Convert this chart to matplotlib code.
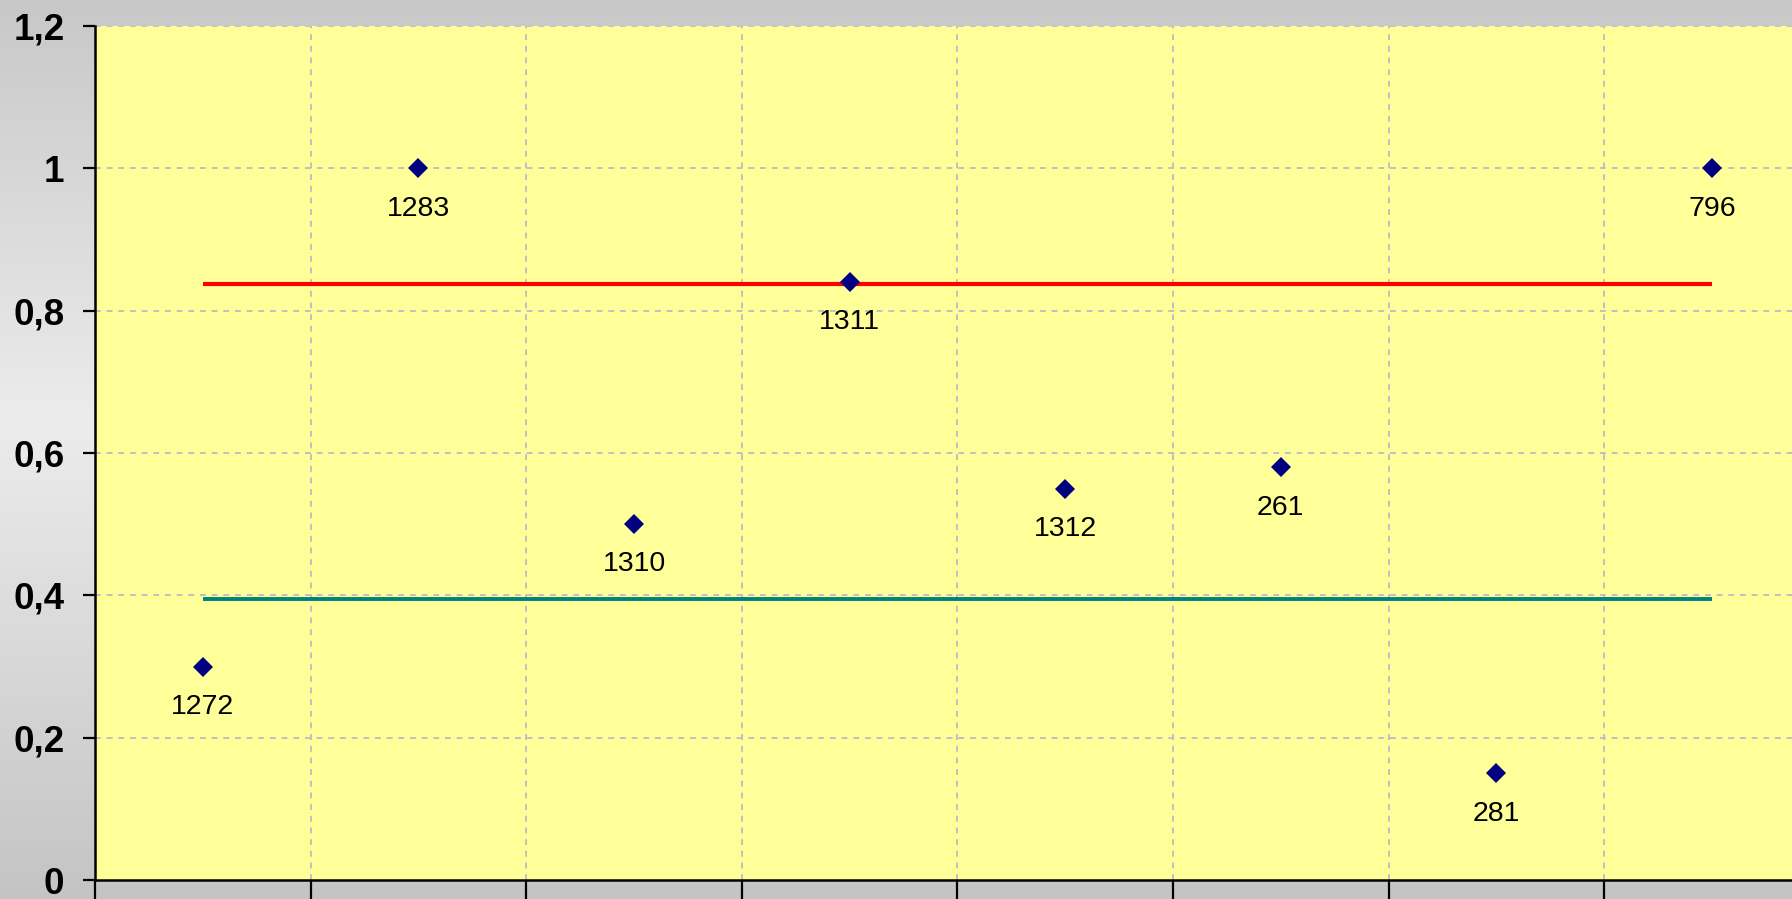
import numpy as np
import matplotlib
matplotlib.use("Agg")
import matplotlib.pyplot as plt
from matplotlib.colors import LinearSegmentedColormap

# ---- data ----
labels = ['1272', '1283', '1310', '1311', '1312', '261', '281', '796']
values = [0.30, 1.00, 0.50, 0.84, 0.55, 0.58, 0.15, 1.00]
red_level = 0.837
teal_level = 0.395
y_ticks = [0, 0.2, 0.4, 0.6, 0.8, 1.0, 1.2]
y_ticklabels = ['0', '0,2', '0,4', '0,6', '0,8', '1', '1,2']

plt.rcParams['font.family'] = ['Liberation Sans', 'DejaVu Sans']

W, H = 1792, 899
fig = plt.figure(figsize=(W / 100, H / 100), dpi=100)

# background vertical gradient
bg = fig.add_axes([0, 0, 1, 1], zorder=-10)
cmap = LinearSegmentedColormap.from_list(
    'g', [(0.0, '#c8c8c8'), (0.47, '#ececec'), (1.0, '#c4c4c4')])
grad = np.linspace(0, 1, 256).reshape(-1, 1)
bg.imshow(grad, aspect='auto', cmap=cmap, extent=[0, 1, 1, 0])
bg.set_xlim(0, 1); bg.set_ylim(1, 0)
bg.axis('off')

left, top, bottom = 95, 26, 880
cat_w = 215.6
ax_w = 8 * cat_w
ax = fig.add_axes([left / W, 1 - bottom / H, ax_w / W, (bottom - top) / H], zorder=1)
ax.set_facecolor('#ffff99')

n = len(labels)
x = np.arange(n)
ax.set_xlim(-0.5, n - 0.5)
ax.set_ylim(0, 1.2)

# grid
for yv in y_ticks[1:]:
    ax.axhline(yv, color='#c0c0c0', lw=1.4, ls=(0, (3, 3)), zorder=1)
for xv in np.arange(0.5, n - 0.5, 1.0):
    ax.axvline(xv, color='#c0c0c0', lw=1.4, ls=(0, (3, 3)), zorder=1)

# horizontal reference lines
ax.plot([x[0], x[-1]], [red_level, red_level], color='#ff0000', lw=3, zorder=3,
        solid_capstyle='butt')
ax.plot([x[0], x[-1]], [teal_level, teal_level], color='#008080', lw=2.8, zorder=3,
        solid_capstyle='butt')

# points
ax.plot(x, values, ls='none', marker='D', ms=10.5, color='#000080', zorder=4,
        markeredgewidth=0)
for xi, v, lab in zip(x, values, labels):
    ax.annotate(lab, (xi, v), xytext=(0, -29), textcoords='offset points',
                ha='center', va='center', fontsize=20.5, color='black', zorder=5)

# axes styling
ax.set_yticks(y_ticks)
ax.set_yticklabels(y_ticklabels, fontsize=26.5, fontweight='bold')
ax.set_xticks(np.arange(-0.5, n, 1.0))
ax.set_xticklabels([''] * len(np.arange(-0.5, n, 1.0)))
ax.tick_params(axis='y', direction='out', length=9, width=1.6, pad=13)
ax.tick_params(axis='x', direction='out', length=20, width=1.6)
for s in ['top', 'right']:
    ax.spines[s].set_visible(False)
for s in ['left', 'bottom']:
    ax.spines[s].set_linewidth(1.8)
    ax.spines[s].set_color('black')

fig.savefig('out.png', dpi=100)
